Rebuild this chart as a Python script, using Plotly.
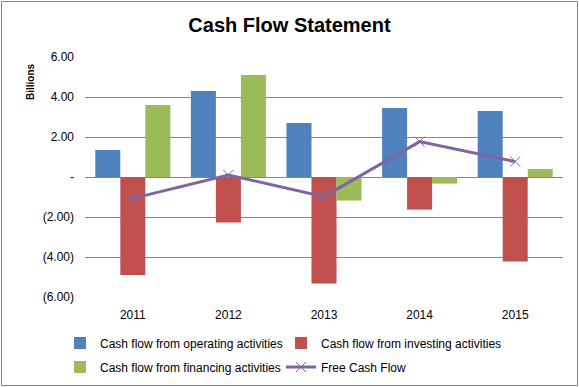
import plotly.graph_objects as go

years = ["2011", "2012", "2013", "2014", "2015"]
operating = [1.35, 4.30, 2.70, 3.45, 3.30]
investing = [-4.90, -2.28, -5.33, -1.63, -4.23]
financing = [3.60, 5.10, -1.18, -0.33, 0.40]
free_cash_flow = [-1.07, 0.10, -0.98, 1.77, 0.77]

tick_vals = [6, 4, 2, 0, -2, -4, -6]
tick_text = ["6.00", "4.00", "2.00", "-", "(2.00)", "(4.00)", "(6.00)"]

W, H = 579, 387
L, R, T, B = 85, 16, 57, 90
pw, ph = W - L - R, H - T - B

font = "Liberation Sans"
fig = go.Figure()
fig.add_trace(go.Bar(x=years, y=operating, name="Cash flow from operating activities",
                     marker=dict(color="#4F81BD", line=dict(width=0)), legend="legend"))
fig.add_trace(go.Bar(x=years, y=investing, name="Cash flow from investing activities",
                     marker=dict(color="#C0504D", line=dict(width=0)), legend="legend"))
fig.add_trace(go.Bar(x=years, y=financing, name="Cash flow from financing activities",
                     marker=dict(color="#9BBB59", line=dict(width=0)), legend="legend2"))
fig.add_trace(go.Scatter(x=years, y=free_cash_flow, name="Free Cash Flow", mode="lines+markers",
                         line=dict(color="#8064A2", width=3),
                         marker=dict(symbol="x-thin", size=10, color="#8064A2",
                                     line=dict(color="#8064A2", width=1)),
                         legend="legend2"))


def leg(ycenter):
    return dict(orientation="h", x=(60 - L) / pw, xanchor="left",
                y=-(ycenter - (T + ph)) / ph, yanchor="middle",
                entrywidth=176, entrywidthmode="pixels",
                font=dict(size=12), traceorder="normal", bgcolor="rgba(0,0,0,0)")


fig.update_layout(
    width=W, height=H,
    margin=dict(l=L, r=R, t=T, b=B, autoexpand=False),
    paper_bgcolor="white", plot_bgcolor="white",
    barmode="group", bargap=0.215, bargroupgap=0,
    font=dict(family=font, size=12, color="#000000"),
    title=dict(text="<b>Cash Flow Statement</b>", x=0.5, xanchor="center",
               y=1 - 25 / H, yanchor="middle", font=dict(family=font, size=20, color="#000")),
    xaxis=dict(showgrid=False, showline=False, ticks="", tickfont=dict(size=12),
               zeroline=False, ticklabelstandoff=9),
    yaxis=dict(range=[-6, 6], tickvals=tick_vals, ticktext=tick_text, showgrid=True,
               gridcolor="#868686", gridwidth=1, zeroline=True, zerolinecolor="#868686",
               zerolinewidth=1, showline=False, ticks="", tickfont=dict(size=12),
               ticklabelstandoff=10),
    legend=leg(343),
    legend2=leg(367),
    showlegend=True,
)

fig.add_annotation(text="<b>Billions</b>", textangle=-90, xref="paper", yref="paper",
                   x=(30 - L) / pw, y=(T + ph - 82) / ph, showarrow=False,
                   font=dict(size=10, family=font), xanchor="center", yanchor="middle")

fig.add_shape(type="rect", xref="paper", yref="paper",
              x0=(1.5 - L) / pw, x1=(577.5 - L) / pw, y0=-(385.5 - T - ph) / ph, y1=(T + ph - 1.5) / ph,
              line=dict(color="#868686", width=1), layer="below")

fig.write_html("out.html", config={"displayModeBar": False},
               post_script="document.body.style.margin='0';")
